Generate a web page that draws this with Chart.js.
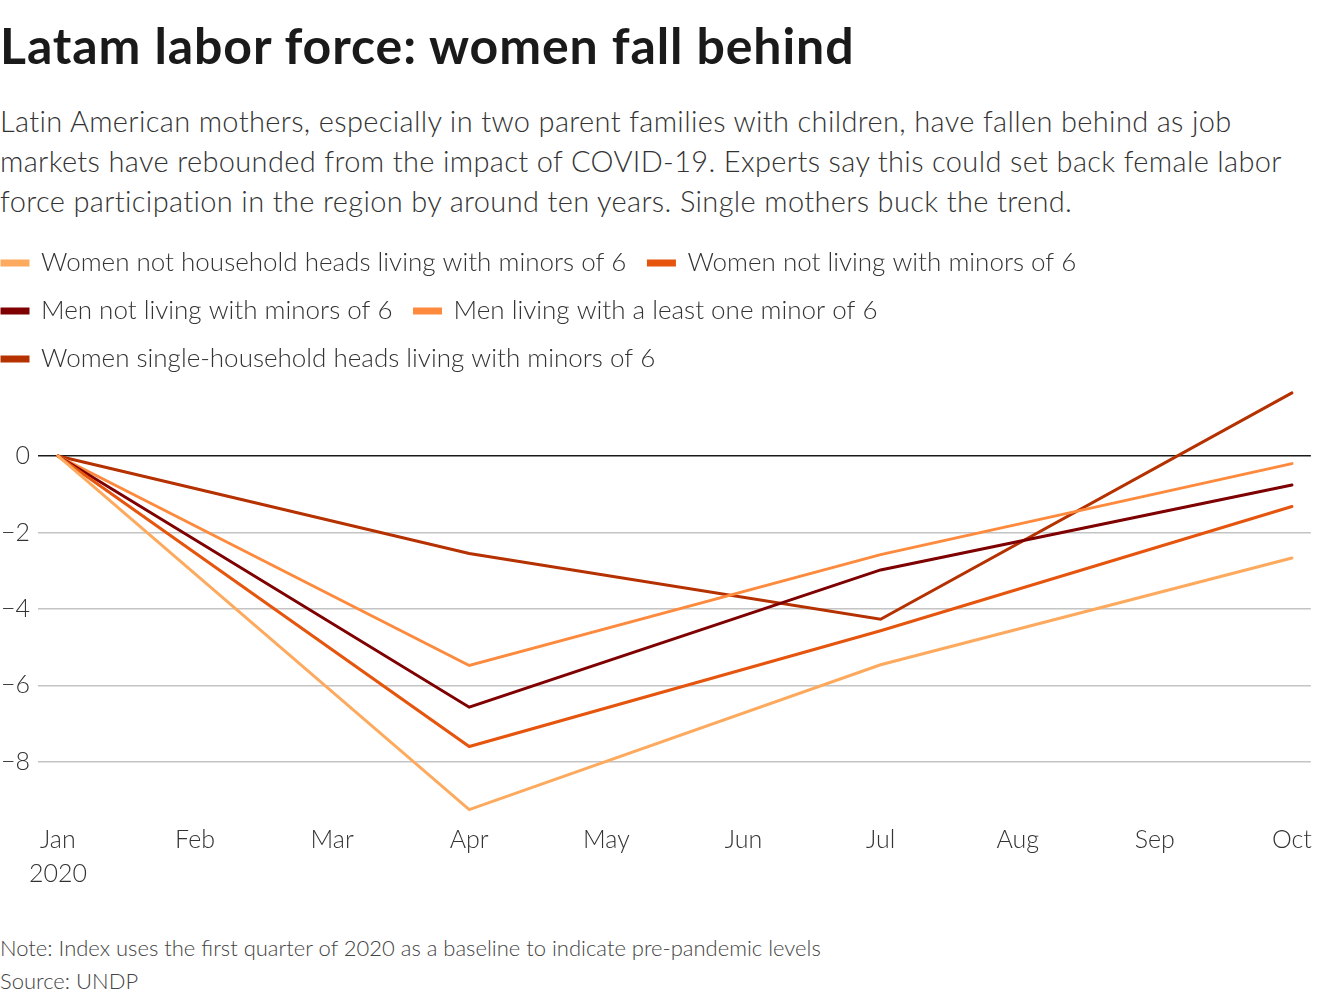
<!DOCTYPE html>
<html>
<head>
<meta charset="utf-8">
<script src="https://cdn.jsdelivr.net/npm/chart.js@4.4.1/dist/chart.umd.min.js"></script>
<style>
  html, body { margin: 0; padding: 0; background: #fff; }
  body { width: 1320px; height: 1000px; position: relative; overflow: hidden; font-family: Lato, "Noto Sans", sans-serif; color: #222; }
  #title { position: absolute; left: 0; top: 15px; font-size: 50px; font-weight: 700; color: #1a1a1a; white-space: nowrap; letter-spacing: 0.9px; }
  #sub { position: absolute; left: 0; top: 101px; font-size: 29px; font-weight: 300; line-height: 40px; color: #333; white-space: nowrap; letter-spacing: 0.35px; }
  #chartWrap { position: absolute; left: 0; top: 228px; width: 1320px; height: 671px; }
  .note { position: absolute; left: 0; font-size: 22px; font-weight: 300; color: #444; white-space: nowrap; }
</style>
</head>
<body>
<div id="title">Latam labor force: women fall behind</div>
<div id="sub">Latin American mothers, especially in two parent families with children, have fallen behind as job<br>markets have rebounded from the impact of COVID-19. Experts say this could set back female labor<br>force participation in the region by around ten years. Single mothers buck the trend.</div>
<div id="chartWrap"><canvas id="c"></canvas></div>
<div class="note" style="top:934px">Note: Index uses the first quarter of 2020 as a baseline to indicate pre-pandemic levels</div>
<div class="note" style="top:967px">Source: UNDP</div>
<script>
const months = ['Jan','Feb','Mar','Apr','May','Jun','Jul','Aug','Sep','Oct'];
const firstTickSubLabel = '2020';
const yTicks = [-8, -6, -4, -2, 0];

const seriesNames = [
  'Women not household heads living with minors of 6',
  'Women not living with minors of 6',
  'Men not living with minors of 6',
  'Men living with a least one minor of 6',
  'Women single-household heads living with minors of 6'
];
const womenNotHeads      = [0, null, null, -9.25, null, null, -5.46, null, null, -2.67];
const womenNotWithMinors = [0, null, null, -7.60, null, null, -4.57, null, null, -1.32];
const menNotWithMinors   = [0, null, null, -6.57, null, null, -2.98, null, null, -0.76];
const menWithMinor       = [0, null, null, -5.48, null, null, -2.58, null, null, -0.20];
const womenSingleHeads   = [0, null, null, -2.55, null, null, -4.27, null, null, 1.65];

const seriesValues = [womenNotHeads, womenNotWithMinors, menNotWithMinors, menWithMinor, womenSingleHeads];
const seriesColors = ['#fdaa5e', '#e6550d', '#7f0000', '#fd8a3d', '#b53200'];

const toPoints = arr => arr.map((v, i) => ({x: i, y: v})).filter(p => p.y !== null);

const datasets = seriesNames.map((name, i) => ({
  label: name,
  data: toPoints(seriesValues[i]),
  borderColor: seriesColors[i],
  backgroundColor: seriesColors[i],
  borderWidth: 3,
  pointRadius: 0,
  pointHoverRadius: 0,
  tension: 0,
  borderCapStyle: 'round',
  borderJoinStyle: 'miter'
}));

const LEG_PAD = 22;
const legendShift = {
  id: 'legendShift',
  afterLayout(chart) {
    const lg = chart.legend;
    if (lg) {
      const d = (2 - LEG_PAD) - lg.left;
      lg.left += d; lg.right += d;
    }
  }
};

const fam = 'Lato, "Noto Sans", sans-serif';

new Chart(document.getElementById('c'), {
  type: 'line',
  data: { datasets },
  plugins: [legendShift],
  options: {
    responsive: true,
    maintainAspectRatio: false,
    animation: false,
    events: [],
    layout: { padding: { left: 0, right: 5, top: 0, bottom: 0 } },
    plugins: {
      legend: {
        display: true,
        position: 'top',
        align: 'start',
        labels: {
          boxWidth: 26,
          boxHeight: 4,
          padding: LEG_PAD,
          color: '#333',
          font: {family: fam, size: 26, weight: 300}
        }
      },
      tooltip: { enabled: false },
      title: { display: false }
    },
    scales: {
      x: {
        type: 'linear',
        min: -0.145,
        max: 9.138,
        grid: { display: false, drawTicks: false },
        border: { display: false },
        afterBuildTicks: scale => { scale.ticks = months.map((m, i) => ({value: i})); },
        ticks: {
          autoSkip: false,
          maxRotation: 0,
          padding: 8,
          color: '#333',
          font: {family: fam, size: 25, weight: 300, lineHeight: 1.36},
          callback: (v) => v === 0 ? [months[0], firstTickSubLabel] : months[v]
        }
      },
      y: {
        min: -9.39,
        max: 1.935,
        afterFit: scale => { scale.width = 38; },
        grid: {
          color: ctx => (ctx.tick && ctx.tick.value === 0) ? '#1a1a1a' : '#c4c4c4',
          lineWidth: 1.6,
          drawTicks: false
        },
        border: { display: false },
        afterBuildTicks: scale => { scale.ticks = yTicks.map(v => ({value: v})); },
        ticks: {
          padding: 8,
          color: '#333',
          font: {family: fam, size: 25, weight: 300},
          callback: v => v < 0 ? '\u2212' + Math.abs(v) : String(v)
        }
      }
    }
  }
});
</script>
</body>
</html>
